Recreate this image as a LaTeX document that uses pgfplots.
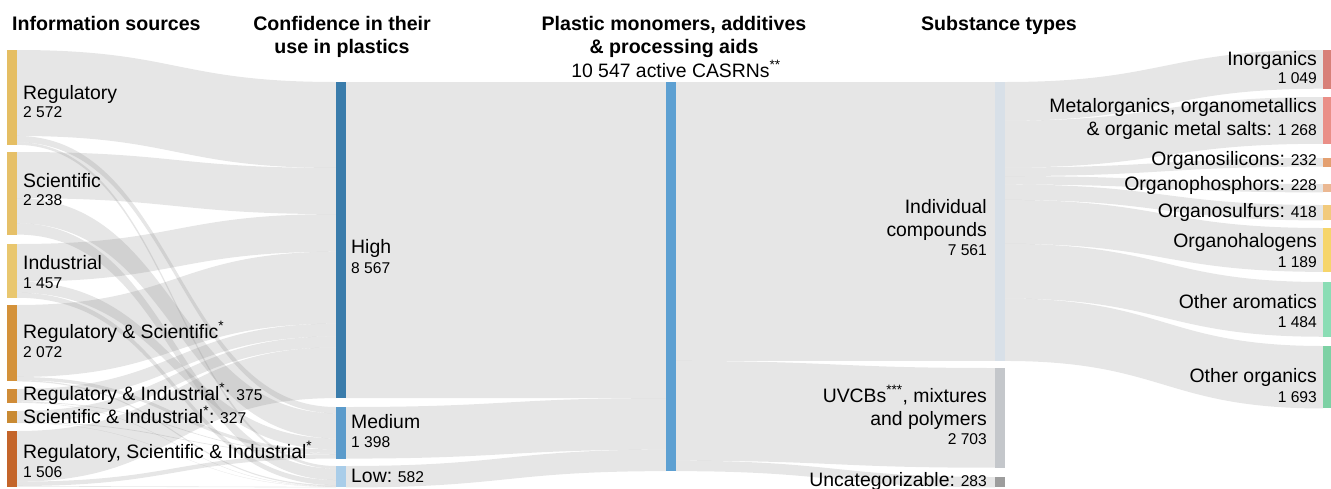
\documentclass[border=0pt]{standalone}
\usepackage{pgfplots}
\pgfplotsset{compat=1.18}
\usepackage{fontspec}
\setmainfont{Liberation Sans}

\definecolor{cR}{HTML}{E5BE63}
\definecolor{cS}{HTML}{E6C068}
\definecolor{cI}{HTML}{E9C76F}
\definecolor{cRS}{HTML}{D4923A}
\definecolor{cRI}{HTML}{D08C38}
\definecolor{cSI}{HTML}{C98A33}
\definecolor{cRSI}{HTML}{C4652A}
\definecolor{cH}{HTML}{3A7CAB}
\definecolor{cM}{HTML}{5B9BCB}
\definecolor{cL}{HTML}{A9CDE9}
\definecolor{cP}{HTML}{5DA0D2}
\definecolor{cIC}{HTML}{D8E0E8}
\definecolor{cUV}{HTML}{C4C7CB}
\definecolor{cUN}{HTML}{9D9D9D}
\definecolor{cInor}{HTML}{D88078}
\definecolor{cMet}{HTML}{EA8F87}
\definecolor{cSi}{HTML}{E4A070}
\definecolor{cPh}{HTML}{EBB892}
\definecolor{cSu}{HTML}{F2CA7C}
\definecolor{cHal}{HTML}{F6D56A}
\definecolor{cAro}{HTML}{8BDDB5}
\definecolor{cOth}{HTML}{7DD1A4}

\newcommand\kk{0.0369}
\newcommand\setnode[2]{\expandafter\xdef\csname nout#1\endcsname{#2}\expandafter\xdef\csname nin#1\endcsname{#2}\expandafter\xdef\csname ntop#1\endcsname{#2}}
% link: source, target, x0, x1, value
\newcommand\link[5]{%
  \pgfmathsetmacro\ya{\csname nout#1\endcsname}%
  \pgfmathsetmacro\yb{\csname nin#2\endcsname}%
  \pgfmathsetmacro\hh{#5*\kk}%
  \pgfmathsetmacro\yaa{\ya+\hh}%
  \pgfmathsetmacro\ybb{\yb+\hh}%
  \pgfmathsetmacro\xm{(#3+#4)/2}%
  \expandafter\xdef\csname nout#1\endcsname{\yaa}%
  \expandafter\xdef\csname nin#2\endcsname{\ybb}%
  \edef\tmp{\noexpand\fill[flowstyle] (axis cs:#3,\ya) .. controls (axis cs:\xm,\ya) and (axis cs:\xm,\yb) .. (axis cs:#4,\yb) -- (axis cs:#4,\ybb) .. controls (axis cs:\xm,\ybb) and (axis cs:\xm,\yaa) .. (axis cs:#3,\yaa) -- cycle;}%
  \tmp}
% bar: node, x0, x1, value, colour
\newcommand\sbar[5]{%
  \pgfmathsetmacro\yt{\csname ntop#1\endcsname}%
  \pgfmathsetmacro\yB{\yt+#4*\kk}%
  \edef\tmp{\noexpand\addplot[draw=none,fill=#5,forget plot] coordinates {(#2,\yt) (#3,\yt) (#3,\yB) (#2,\yB)} -- cycle;}%
  \tmp}
\newcommand\lab{\fontsize{19.4}{22}\selectfont}
\newcommand\ttl{\fontsize{19.6}{22}\selectfont\bfseries}
\newcommand\nm{\fontsize{15.6}{18}\selectfont}
\newcommand\st{\textsuperscript{*}}

\tikzset{flowstyle/.style={fill=gray,fill opacity=0.2,draw=none}}

\begin{document}
\begin{tikzpicture}
\begin{axis}[
  at={(0,0)}, anchor=south west,
  scale only axis, width=1331pt, height=488pt,
  xmin=0, xmax=1331, ymin=0, ymax=488, y dir=reverse,
  hide axis, clip=false]

\setnode{R}{50}\setnode{S}{152}\setnode{I}{244}\setnode{RS}{305}
\setnode{RI}{389}\setnode{SI}{411}\setnode{RSI}{431}
\setnode{H}{82}\setnode{M}{407}\setnode{L}{466}
\setnode{P}{82}
\setnode{IC}{82}\setnode{UV}{368}\setnode{UN}{477}
\setnode{Inor}{50}\setnode{Met}{97}\setnode{Si}{158}\setnode{Ph}{184}
\setnode{Su}{205}\setnode{Hal}{228}\setnode{Aro}{282}\setnode{Oth}{346}

% sources -> confidence
\link{R}{H}{17}{336}{2330}\link{R}{M}{17}{336}{170}\link{R}{L}{17}{336}{72}
\link{S}{H}{17}{336}{1250}\link{S}{M}{17}{336}{680}\link{S}{L}{17}{336}{308}
\link{I}{H}{17}{336}{1020}\link{I}{M}{17}{336}{300}\link{I}{L}{17}{336}{137}
\link{RS}{H}{17}{336}{1950}\link{RS}{M}{17}{336}{90}\link{RS}{L}{17}{336}{32}
\link{RI}{H}{17}{336}{345}\link{RI}{M}{17}{336}{20}\link{RI}{L}{17}{336}{10}
\link{SI}{H}{17}{336}{300}\link{SI}{M}{17}{336}{20}\link{SI}{L}{17}{336}{7}
\link{RSI}{H}{17}{336}{1372}\link{RSI}{M}{17}{336}{118}\link{RSI}{L}{17}{336}{16}
% confidence -> plastics
\link{H}{P}{346}{666}{8567}\link{M}{P}{346}{666}{1398}\link{L}{P}{346}{666}{582}
% plastics -> categories
\link{P}{IC}{676}{995}{7561}\link{P}{UV}{676}{995}{2703}\link{P}{UN}{676}{995}{283}
% individual compounds -> substance types
\link{IC}{Inor}{1005}{1323}{1049}\link{IC}{Met}{1005}{1323}{1268}
\link{IC}{Si}{1005}{1323}{232}\link{IC}{Ph}{1005}{1323}{228}
\link{IC}{Su}{1005}{1323}{418}\link{IC}{Hal}{1005}{1323}{1189}
\link{IC}{Aro}{1005}{1323}{1484}\link{IC}{Oth}{1005}{1323}{1693}

% bars
\sbar{R}{7}{17}{2572}{cR}\sbar{S}{7}{17}{2238}{cS}\sbar{I}{7}{17}{1457}{cI}
\sbar{RS}{7}{17}{2072}{cRS}\sbar{RI}{7}{17}{375}{cRI}\sbar{SI}{7}{17}{327}{cSI}
\sbar{RSI}{7}{17}{1506}{cRSI}
\sbar{H}{336}{346}{8567}{cH}\sbar{M}{336}{346}{1398}{cM}\sbar{L}{336}{346}{582}{cL}
\sbar{P}{666}{676}{10547}{cP}
\sbar{IC}{995}{1005}{7561}{cIC}\sbar{UV}{995}{1005}{2703}{cUV}\sbar{UN}{995}{1005}{283}{cUN}
\sbar{Inor}{1323}{1331}{1049}{cInor}\sbar{Met}{1323}{1331}{1268}{cMet}
\sbar{Si}{1323}{1331}{232}{cSi}\sbar{Ph}{1323}{1331}{228}{cPh}
\sbar{Su}{1323}{1331}{418}{cSu}\sbar{Hal}{1323}{1331}{1189}{cHal}
\sbar{Aro}{1323}{1331}{1484}{cAro}\sbar{Oth}{1323}{1331}{1693}{cOth}

% titles
\node[anchor=base west,inner sep=0pt,font=\ttl] at (axis cs:12,30) {Information sources};
\node[anchor=base,inner sep=0pt,font=\ttl] at (axis cs:342,30) {Confidence in their};
\node[anchor=base,inner sep=0pt,font=\ttl] at (axis cs:342,53) {use in plastics};
\node[anchor=base,inner sep=0pt,font=\ttl] at (axis cs:674,30) {Plastic monomers, additives};
\node[anchor=base,inner sep=0pt,font=\ttl] at (axis cs:674,53) {\& processing aids};
\node[anchor=base,inner sep=0pt,font=\lab] at (axis cs:676,77) {10 547 active CASRNs\textsuperscript{**}};
\node[anchor=base,inner sep=0pt,font=\ttl] at (axis cs:999,30) {Substance types};

% left labels
\node[anchor=base west,inner sep=0pt,font=\lab] at (axis cs:23,99) {Regulatory};
\node[anchor=base west,inner sep=0pt,font=\nm] at (axis cs:23,117) {2 572};
\node[anchor=base west,inner sep=0pt,font=\lab] at (axis cs:23,187) {Scientific};
\node[anchor=base west,inner sep=0pt,font=\nm] at (axis cs:23,205) {2 238};
\node[anchor=base west,inner sep=0pt,font=\lab] at (axis cs:23,269) {Industrial};
\node[anchor=base west,inner sep=0pt,font=\nm] at (axis cs:23,288) {1 457};
\node[anchor=base west,inner sep=0pt,font=\lab] at (axis cs:23,338) {Regulatory \& Scientific\st};
\node[anchor=base west,inner sep=0pt,font=\nm] at (axis cs:23,357) {2 072};
\node[anchor=base west,inner sep=0pt,font=\lab] at (axis cs:23,400) {Regulatory \& Industrial\st:{\nm{} 375}};
\node[anchor=base west,inner sep=0pt,font=\lab] at (axis cs:23,423) {Scientific \& Industrial\st:{\nm{} 327}};
\node[anchor=base west,inner sep=0pt,font=\lab] at (axis cs:23,458) {Regulatory, Scientific \& Industrial\st};
\node[anchor=base west,inner sep=0pt,font=\nm] at (axis cs:23,477) {1 506};

% confidence labels
\node[anchor=base west,inner sep=0pt,font=\lab] at (axis cs:351,253) {High};
\node[anchor=base west,inner sep=0pt,font=\nm] at (axis cs:351,273) {8 567};
\node[anchor=base west,inner sep=0pt,font=\lab] at (axis cs:351,428) {Medium};
\node[anchor=base west,inner sep=0pt,font=\nm] at (axis cs:351,447) {1 398};
\node[anchor=base west,inner sep=0pt,font=\lab] at (axis cs:351,482) {Low:{\nm{} 582}};

% category labels
\node[anchor=base east,inner sep=0pt,font=\lab] at (axis cs:987,213) {Individual};
\node[anchor=base east,inner sep=0pt,font=\lab] at (axis cs:987,236) {compounds};
\node[anchor=base east,inner sep=0pt,font=\nm] at (axis cs:987,255) {7 561};
\node[anchor=base east,inner sep=0pt,font=\lab] at (axis cs:987,402) {UVCBs\textsuperscript{***}, mixtures};
\node[anchor=base east,inner sep=0pt,font=\lab] at (axis cs:987,425) {and polymers};
\node[anchor=base east,inner sep=0pt,font=\nm] at (axis cs:987,444) {2 703};
\node[anchor=base east,inner sep=0pt,font=\lab] at (axis cs:987,486) {Uncategorizable:{\nm{} 283}};

% substance type labels
\node[anchor=base east,inner sep=0pt,font=\lab] at (axis cs:1317,65) {Inorganics};
\node[anchor=base east,inner sep=0pt,font=\nm] at (axis cs:1317,83) {1 049};
\node[anchor=base east,inner sep=0pt,font=\lab] at (axis cs:1317,112) {Metalorganics, organometallics};
\node[anchor=base east,inner sep=0pt,font=\lab] at (axis cs:1317,135) {\& organic metal salts:{\nm{} 1 268}};
\node[anchor=base east,inner sep=0pt,font=\lab] at (axis cs:1317,165) {Organosilicons:{\nm{} 232}};
\node[anchor=base east,inner sep=0pt,font=\lab] at (axis cs:1317,190) {Organophosphors:{\nm{} 228}};
\node[anchor=base east,inner sep=0pt,font=\lab] at (axis cs:1317,217) {Organosulfurs:{\nm{} 418}};
\node[anchor=base east,inner sep=0pt,font=\lab] at (axis cs:1317,247) {Organohalogens};
\node[anchor=base east,inner sep=0pt,font=\nm] at (axis cs:1317,267) {1 189};
\node[anchor=base east,inner sep=0pt,font=\lab] at (axis cs:1317,308) {Other aromatics};
\node[anchor=base east,inner sep=0pt,font=\nm] at (axis cs:1317,327) {1 484};
\node[anchor=base east,inner sep=0pt,font=\lab] at (axis cs:1317,382) {Other organics};
\node[anchor=base east,inner sep=0pt,font=\nm] at (axis cs:1317,402) {1 693};
\end{axis}
\pgfresetboundingbox
\path[use as bounding box] (0,0) rectangle (1331pt,488pt);
\end{tikzpicture}
\end{document}
